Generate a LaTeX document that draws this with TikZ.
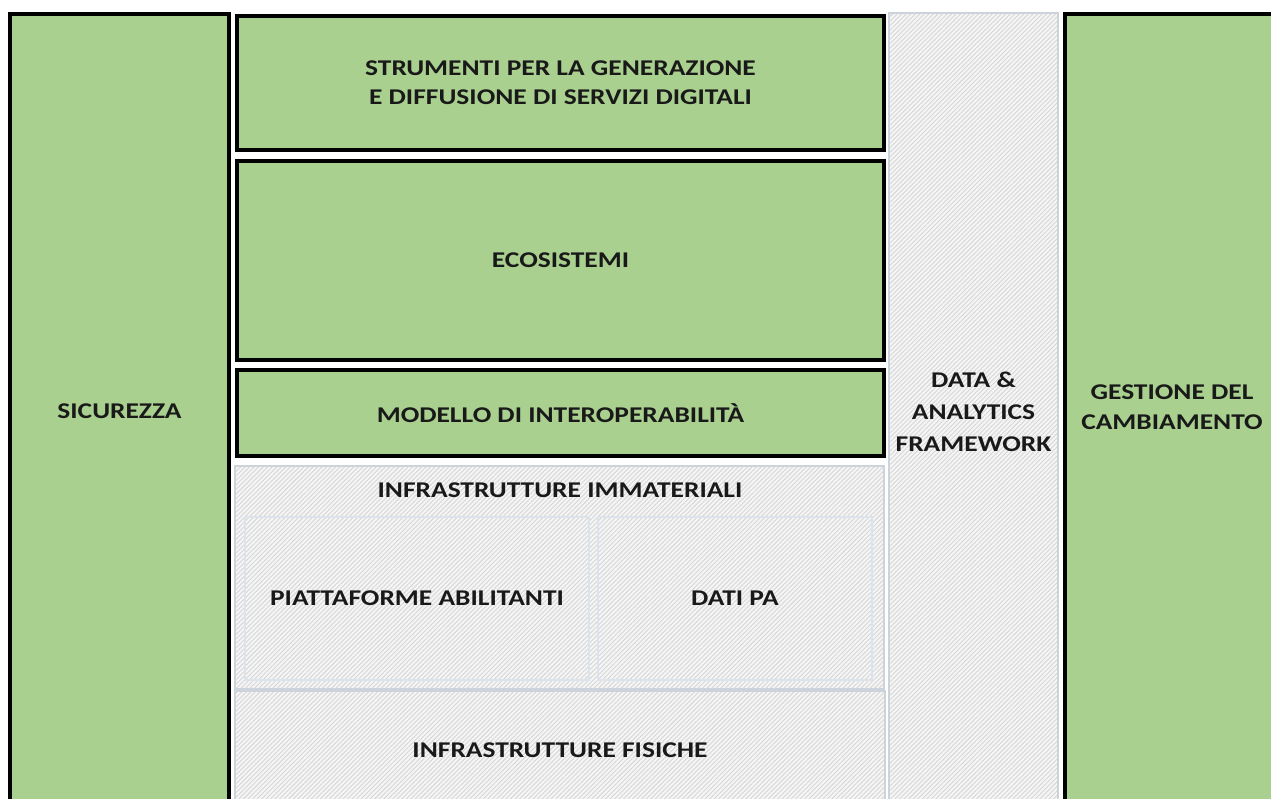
\documentclass[tikz,border=0pt]{standalone}
\usepackage{fontspec}
\setmainfont[FakeStretch=1.22]{Carlito}
\usetikzlibrary{patterns.meta}
\definecolor{grn}{HTML}{A9D08E}
\definecolor{hbg}{HTML}{F5F5F5}
\definecolor{hln}{HTML}{D6D6D6}
\definecolor{hbord}{HTML}{CDD3DA}
\definecolor{ibord}{HTML}{DCE3EB}
\tikzset{
  gbox/.style={draw=black, line width=4pt, fill=grn, rectangle, inner sep=0pt,
    align=center, font=\bfseries\fontsize{22.5}{29}\selectfont, text=black!90},
  hbox/.style={draw=hbord, line width=1.3pt, rectangle, inner sep=0pt,
    preaction={fill=hbg},
    pattern={Lines[angle=45,distance=3.2pt,line width=0.9pt]}, pattern color=hln,
    align=center, font=\bfseries\fontsize{22.5}{32}\selectfont, text=black!90},
  ibox/.style={hbox, draw=ibord, line width=1.2pt},
  lbl/.style={inner sep=0pt, align=center, font=\bfseries\fontsize{22.5}{30}\selectfont, text=black!90}
}
\begin{document}
\begin{tikzpicture}[x=1pt,y=-1pt]
\useasboundingbox (0,0) rectangle (1271,798);
\begin{scope}
\clip (0,0) rectangle (1271,798);
\fill[white] (0,0) rectangle (1271,798);
% outer columns
\node[gbox, minimum width=219pt, minimum height=794pt] (sic) at (119.5,411) {SICUREZZA};
\node[hbox, minimum width=169pt, minimum height=798pt] (data) at (973.5,412) {DATA \&\\ANALYTICS\\FRAMEWORK};
\node[gbox, minimum width=220pt, minimum height=794pt] (ges) at (1175,411) {};
\node[lbl] (gestxt) at (1172,407) {GESTIONE DEL\\CAMBIAMENTO};
% central stack
\node[gbox, minimum width=647pt, minimum height=134pt] (str) at (560.5,83) {STRUMENTI PER LA GENERAZIONE\\E DIFFUSIONE DI SERVIZI DIGITALI};
\node[gbox, minimum width=647pt, minimum height=199pt] (eco) at (560.5,260.5) {ECOSISTEMI};
\node[gbox, minimum width=647pt, minimum height=86pt] (mod) at (560.5,413) {MODELLO DI INTEROPERABILITÀ};
\node[hbox, minimum width=649pt, minimum height=223pt] (imm) at (559.5,577.5) {};
\node[lbl] (immtxt) at (560,490) {INFRASTRUTTURE IMMATERIALI};
\node[ibox, minimum width=344pt, minimum height=163pt] (pia) at (417,598.5) {PIATTAFORME ABILITANTI};
\node[ibox, minimum width=274pt, minimum height=163pt] (dati) at (735,598.5) {DATI PA};
\node[hbox, minimum width=650pt, minimum height=119pt] (fis) at (560,750.5) {INFRASTRUTTURE FISICHE};
\end{scope}
\end{tikzpicture}
\end{document}
